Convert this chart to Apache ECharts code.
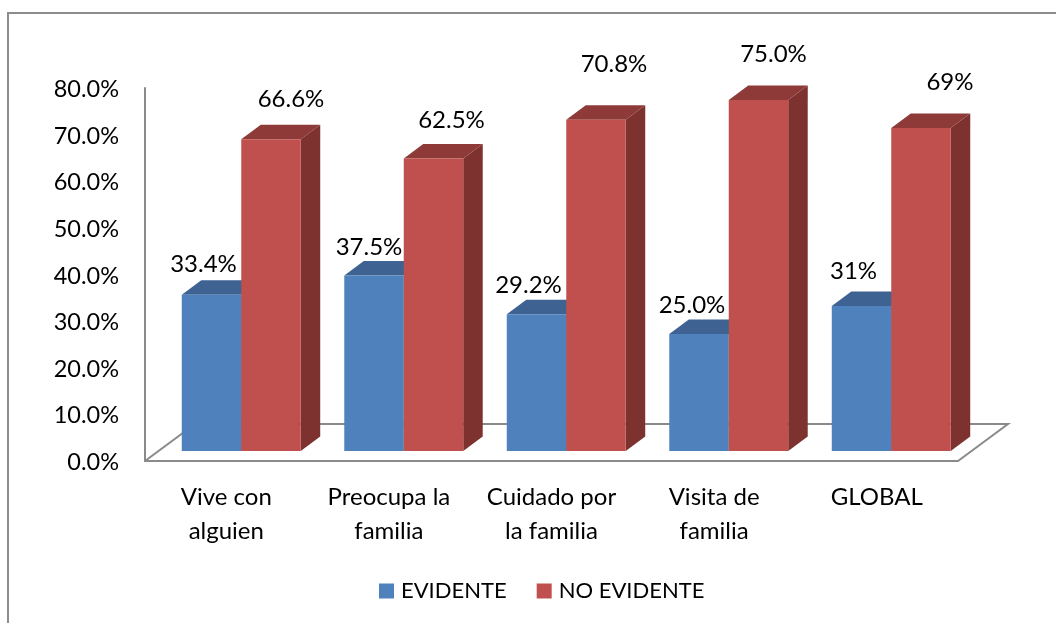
<!DOCTYPE html>
<html>
<head>
<meta charset="utf-8">
<title>EVIDENTE / NO EVIDENTE</title>
<script src="https://cdn.jsdelivr.net/npm/echarts@6/dist/echarts.min.js"></script>
<style>
  html, body { margin: 0; padding: 0; background: #fff; }
  #chart { width: 1056px; height: 623px; }
</style>
</head>
<body>
<div id="chart"></div>
<script>
var categories = ['Vive con\nalguien', 'Preocupa la\nfamilia', 'Cuidado por\nla familia', 'Visita de\nfamilia', 'GLOBAL'];
var yTicks = [0, 10, 20, 30, 40, 50, 60, 70, 80];

var evidente = [33.4, 37.5, 29.2, 25.0, 31];
var noEvidente = [66.6, 62.5, 70.8, 75.0, 69];
var evidenteLabels = ['33.4%', '37.5%', '29.2%', '25.0%', '31%'];
var noEvidenteLabels = ['66.6%', '62.5%', '70.8%', '75.0%', '69%'];

// labels were dragged by hand in the original, so each one has its own offset from the bar top
var evidenteShift = [[-8, -30], [-5, -28], [-8, -29], [-7, -29], [-8, -35]];
var noEvidenteShift = [[20, -40], [18, -38], [18, -55], [15, -46], [29, -46]];

var FONT = 'Lato';
var GREY = '#8a8a8a';
var DEPTH_X = 19.5, DEPTH_Y = -14.5;

function quad(pts, color) {
    return { type: 'polygon', shape: { points: pts }, style: { fill: color } };
}

function barSeries(name, values, texts, shifts, colors, side) {
    return {
        name: name,
        type: 'custom',
        xAxisIndex: 1,
        yAxisIndex: 1,
        clip: false,
        z: 3,
        itemStyle: { color: colors.front },
        data: values.map(function (v, i) { return [i, v]; }),
        renderItem: function (params, api) {
            var i = params.dataIndex;
            var top = api.coord([api.value(0), api.value(1)]);
            var base = api.coord([api.value(0), 0]);
            var w = api.size([1, 0])[0] * 0.366;
            var x0 = side < 0 ? top[0] - w : top[0];
            var x1 = x0 + w;
            return {
                type: 'group',
                children: [
                    quad([[x1, top[1]], [x1 + DEPTH_X, top[1] + DEPTH_Y], [x1 + DEPTH_X, base[1] + DEPTH_Y], [x1, base[1]]], colors.side),
                    quad([[x0, top[1]], [x0 + DEPTH_X, top[1] + DEPTH_Y], [x1 + DEPTH_X, top[1] + DEPTH_Y], [x1, top[1]]], colors.top),
                    { type: 'rect', shape: { x: x0, y: top[1], width: w, height: base[1] - top[1] }, style: { fill: colors.front } },
                    {
                        type: 'text',
                        z2: 20,
                        style: {
                            x: (x0 + x1) / 2 + shifts[i][0],
                            y: top[1] + shifts[i][1],
                            text: texts[i],
                            fill: '#000',
                            font: '24px ' + FONT,
                            align: 'center',
                            verticalAlign: 'middle'
                        }
                    }
                ]
            };
        }
    };
}

var floorSeries = {
    type: 'custom',
    xAxisIndex: 0,
    yAxisIndex: 0,
    clip: false,
    silent: true,
    z: 1,
    data: [[0, 0]],
    renderItem: function (params, api) {
        var c = params.coordSys;
        var b = c.y + c.height, r = c.x + c.width;
        return {
            type: 'polyline',
            shape: { points: [[c.x, b], [c.x + 50, b - 37], [r + 50, b - 37], [r, b]] },
            style: { fill: null, stroke: GREY, lineWidth: 2 }
        };
    }
};

var myChart = echarts.init(document.getElementById('chart'));
myChart.setOption({
    animation: false,
    backgroundColor: '#fff',
    graphic: [{
        type: 'polyline',
        silent: true,
        shape: { points: [[8, 623], [8, 13], [1056, 13]] },
        style: { fill: null, stroke: '#8c8c8c', lineWidth: 2 }
    }],
    legend: {
        data: ['EVIDENTE', 'NO EVIDENTE'],
        left: 379,
        top: 580,
        padding: 0,
        icon: 'rect',
        itemWidth: 15,
        itemHeight: 15,
        itemGap: 30,
        textStyle: { fontFamily: FONT, fontSize: 22, color: '#000', padding: [0, 0, 0, 2] }
    },
    grid: [
        { left: 145, top: 88, width: 813, height: 373 },
        { left: 160, top: 76.6, width: 812.5, height: 374.4 }
    ],
    xAxis: [
        {
            type: 'category',
            gridIndex: 0,
            data: categories,
            axisLine: { lineStyle: { color: GREY, width: 2 } },
            axisTick: { show: false },
            axisLabel: { interval: 0, margin: 19, color: '#000', fontFamily: FONT, fontSize: 24, lineHeight: 34 }
        },
        { type: 'category', gridIndex: 1, data: categories, show: false }
    ],
    yAxis: [
        {
            type: 'value',
            gridIndex: 0,
            min: yTicks[0],
            max: yTicks[yTicks.length - 1],
            interval: 10,
            splitLine: { show: false },
            axisLine: { show: true, lineStyle: { color: GREY, width: 2 } },
            axisTick: { show: false },
            axisLabel: {
                margin: 26,
                color: '#000',
                fontFamily: FONT,
                fontSize: 23.5,
                formatter: function (v) { return '{t|' + v.toFixed(1) + '%}'; },
                rich: { t: { fontFamily: FONT, fontSize: 23.5, color: '#000', padding: [3, 0, 0, 0] } }
            }
        },
        { type: 'value', gridIndex: 1, min: 0, max: 80, show: false }
    ],
    series: [
        floorSeries,
        barSeries('EVIDENTE', evidente, evidenteLabels, evidenteShift, { front: '#4f81bd', top: '#3e6392', side: '#375a80' }, -1),
        barSeries('NO EVIDENTE', noEvidente, noEvidenteLabels, noEvidenteShift, { front: '#c0504d', top: '#8e3a38', side: '#7d3230' }, 1)
    ]
});
</script>
</body>
</html>
